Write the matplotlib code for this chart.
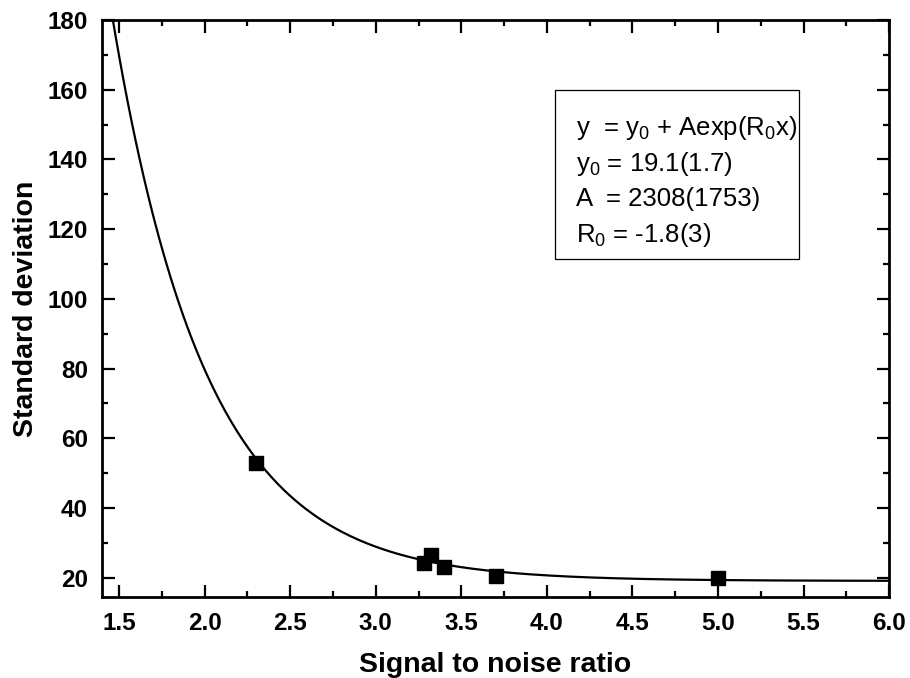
import numpy as np
import matplotlib
matplotlib.use("Agg")
import matplotlib.pyplot as plt
from matplotlib.patches import Rectangle
from matplotlib.ticker import MultipleLocator

# measured points
snr = [2.30, 3.28, 3.32, 3.40, 3.70, 5.00]
std_dev = [53.0, 24.3, 26.4, 23.0, 20.4, 20.0]

# exponential fit  y = y0 + A*exp(R0*x)
y0 = 19.1
A = 2308
R0 = -1.82

fit_lines = [
    r"y  = y$\mathregular{_0}$ + Aexp(R$\mathregular{_0}$x)",
    r"y$\mathregular{_0}$ = 19.1(1.7)",
    r"A  = 2308(1753)",
    r"R$\mathregular{_0}$ = -1.8(3)",
]

plt.rcParams["font.family"] = ["Liberation Sans", "DejaVu Sans"]
plt.rcParams["mathtext.fontset"] = "custom"
plt.rcParams["mathtext.rm"] = "Liberation Sans"
plt.rcParams["mathtext.it"] = "Liberation Sans"

fig = plt.figure(figsize=(9.1, 6.78), dpi=100)
ax = fig.add_axes([0.1121, 0.1195, 0.8649, 0.851])

xs = np.linspace(1.40, 6.0, 400)
ax.plot(xs, y0 + A * np.exp(R0 * xs), color="black", lw=1.6, zorder=2)
ax.plot(snr, std_dev, "s", color="black", ms=10, zorder=3)

ax.set_xlim(1.40, 6.0)
ax.set_ylim(14.5, 180)
ax.xaxis.set_major_locator(MultipleLocator(0.5))
ax.xaxis.set_minor_locator(MultipleLocator(0.25))
ax.yaxis.set_major_locator(MultipleLocator(20))
ax.yaxis.set_minor_locator(MultipleLocator(10))

for s in ax.spines.values():
    s.set_linewidth(2.0)
ax.tick_params(which="both", direction="in", top=True, right=True, width=1.6)
ax.tick_params(which="major", length=9, labelsize=17.5)
ax.tick_params(axis="y", which="major", pad=10)
ax.tick_params(axis="x", which="major", pad=11)
ax.tick_params(which="minor", length=4.5)
for lab in ax.get_xticklabels() + ax.get_yticklabels():
    lab.set_fontweight("bold")

ax.set_xlabel("Signal to noise ratio", fontsize=20.5, fontweight="bold", labelpad=12)
ax.set_ylabel("Standard deviation", fontsize=20.5, fontweight="bold", labelpad=6)

# fit result box
ax.add_patch(Rectangle((0.5756, 0.585), 0.310, 0.294, transform=ax.transAxes,
                       facecolor="white", edgecolor="black", lw=0.9, zorder=4))
line_y = [0.800, 0.738, 0.677, 0.616]
for txt, yy in zip(fit_lines, line_y):
    ax.text(0.602, yy, txt, transform=ax.transAxes, fontsize=18.5,
            va="baseline", ha="left", zorder=5)

fig.savefig("out.png", dpi=100)
